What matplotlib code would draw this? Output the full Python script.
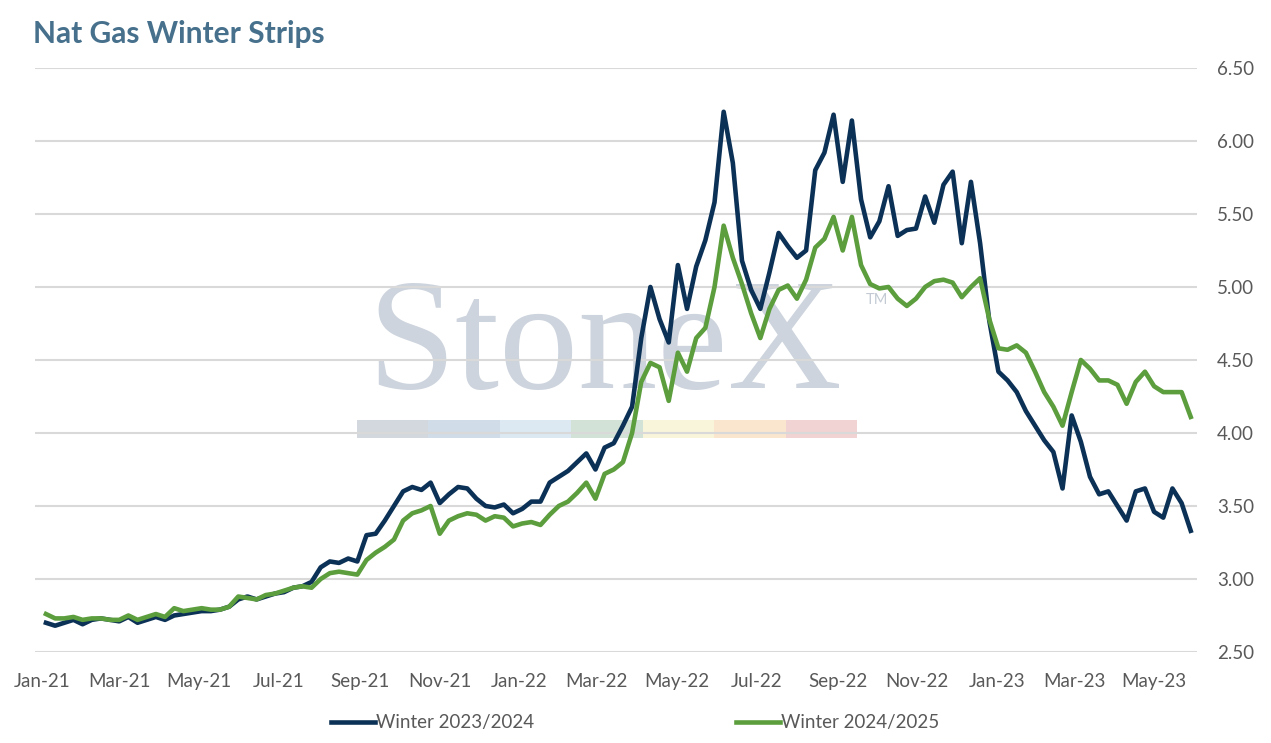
"""
Nat Gas Winter Strips chart (weekly closes read off the StoneX chart).
"""

import matplotlib

matplotlib.use("Agg")

import matplotlib.dates as mdates
import matplotlib.pyplot as plt
import pandas as pd
from matplotlib.patches import Rectangle


TITLE = "Nat Gas Winter Strips"
SERIES_NAMES = ["Winter 2023/2024", "Winter 2024/2025"]
WEEK_START = "2021-01-04"

WINTER_2324 = [
    2.70, 2.68, 2.70, 2.72, 2.69, 2.72, 2.73, 2.72, 2.71, 2.74,
    2.70, 2.72, 2.74, 2.72, 2.75, 2.76, 2.77, 2.78, 2.78, 2.79,
    2.81, 2.86, 2.88, 2.86, 2.88, 2.90, 2.91, 2.94, 2.95, 2.98,
    3.08, 3.12, 3.11, 3.14, 3.12, 3.30, 3.31, 3.40, 3.50, 3.60,
    3.63, 3.61, 3.66, 3.52, 3.58, 3.63, 3.62, 3.55, 3.50, 3.49,
    3.51, 3.45, 3.48, 3.53, 3.53, 3.66, 3.70, 3.74, 3.80, 3.86,
    3.75, 3.90, 3.93, 4.05, 4.18, 4.65, 5.00, 4.78, 4.62, 5.15,
    4.85, 5.14, 5.32, 5.58, 6.20, 5.85, 5.18, 4.98, 4.85, 5.10,
    5.37, 5.28, 5.20, 5.25, 5.80, 5.92, 6.18, 5.72, 6.14, 5.60,
    5.34, 5.45, 5.69, 5.35, 5.39, 5.40, 5.62, 5.44, 5.70, 5.79,
    5.30, 5.72, 5.30, 4.77, 4.42, 4.36, 4.28, 4.15, 4.05, 3.95,
    3.87, 3.62, 4.12, 3.94, 3.70, 3.58, 3.60, 3.50, 3.40, 3.60,
    3.62, 3.46, 3.42, 3.62, 3.52, 3.33,
]

WINTER_2425 = [
    2.76, 2.73, 2.73, 2.74, 2.72, 2.73, 2.73, 2.72, 2.72, 2.75,
    2.72, 2.74, 2.76, 2.74, 2.80, 2.78, 2.79, 2.80, 2.79, 2.79,
    2.81, 2.88, 2.87, 2.86, 2.89, 2.90, 2.92, 2.94, 2.95, 2.94,
    3.00, 3.04, 3.05, 3.04, 3.03, 3.13, 3.18, 3.22, 3.27, 3.40,
    3.45, 3.47, 3.50, 3.31, 3.40, 3.43, 3.45, 3.44, 3.40, 3.43,
    3.42, 3.36, 3.38, 3.39, 3.37, 3.44, 3.50, 3.53, 3.59, 3.66,
    3.55, 3.72, 3.75, 3.80, 4.00, 4.35, 4.48, 4.45, 4.22, 4.55,
    4.42, 4.65, 4.72, 5.00, 5.42, 5.20, 5.02, 4.82, 4.65, 4.85,
    4.98, 5.01, 4.92, 5.05, 5.27, 5.33, 5.48, 5.25, 5.48, 5.15,
    5.02, 4.99, 5.00, 4.92, 4.87, 4.92, 5.00, 5.04, 5.05, 5.03,
    4.93, 5.00, 5.06, 4.78, 4.58, 4.57, 4.60, 4.55, 4.42, 4.28,
    4.18, 4.05, 4.28, 4.50, 4.44, 4.36, 4.36, 4.33, 4.20, 4.35,
    4.42, 4.32, 4.28, 4.28, 4.28, 4.11,
]

Y_TICKS = [2.50, 3.00, 3.50, 4.00, 4.50, 5.00, 5.50, 6.00, 6.50]

NAVY = "#0C3156"
GREEN = "#5C9E3D"
GRID = "#D9D9D9"
LABEL = "#595959"
TITLE_COLOR = "#46708C"
WATERMARK = "#CDD4DD"
BAR_COLORS = ["#D3D8DE", "#D0DCE7", "#DCE9F3", "#D3E2D6", "#F8F5DB", "#FAE6CF", "#F1D3D3"]

plt.rcParams["font.family"] = ["Lato", "DejaVu Sans"]


def draw_watermark(fig) -> None:
    """
    Faint StoneX logo behind the plot area.
    """

    fig.text(0.476, 0.4778, "StoneX", family="Liberation Serif", fontsize=114,
             color=WATERMARK, ha="center", va="baseline", zorder=-2)
    fig.text(0.681, 0.596, "TM", fontsize=10.5, color="#C3CAD3",
             ha="left", va="center", zorder=-2)

    left, width = 0.2809, 0.3934
    seg = width / len(BAR_COLORS)
    for i, color in enumerate(BAR_COLORS):
        fig.patches.append(
            Rectangle((left + i * seg, 0.4105), seg, 0.0242,
                      transform=fig.transFigure, facecolor=color,
                      edgecolor="none", zorder=-2)
        )


def main() -> None:
    dates = pd.date_range(WEEK_START, periods=len(WINTER_2324), freq="W-MON")

    fig = plt.figure(figsize=(12.71, 7.43), dpi=100)
    ax = fig.add_axes([0.0275, 0.1225, 0.9145, 0.786])
    ax.set_facecolor("none")

    draw_watermark(fig)

    ax.plot(dates, WINTER_2324, color=NAVY, linewidth=3.3,
            solid_joinstyle="round", label=SERIES_NAMES[0], zorder=2)
    ax.plot(dates, WINTER_2425, color=GREEN, linewidth=3.3,
            solid_joinstyle="round", label=SERIES_NAMES[1], zorder=3)

    ax.set_ylim(2.5, 6.5)
    ax.set_yticks(Y_TICKS)
    ax.set_yticklabels([f"{v:.2f}" for v in Y_TICKS])
    ax.yaxis.tick_right()
    ax.set_xlim(pd.Timestamp("2020-12-26 14:00"), pd.Timestamp("2023-06-03"))
    ax.xaxis.set_major_locator(mdates.MonthLocator(bymonth=[1, 3, 5, 7, 9, 11]))
    ax.xaxis.set_major_formatter(mdates.DateFormatter("%b-%y"))

    ax.grid(axis="y", color=GRID, linewidth=1.5)
    ax.grid(axis="x", visible=False)
    for spine in ax.spines.values():
        spine.set_visible(False)
    ax.tick_params(axis="both", length=0, labelsize=13.5, labelcolor=LABEL)
    ax.tick_params(axis="x", pad=15)
    ax.tick_params(axis="y", pad=14)

    fig.text(0.026, 0.942, TITLE, fontsize=21.5, fontweight="bold",
             color=TITLE_COLOR, ha="left", va="baseline")

    ax.legend(loc="center", bbox_to_anchor=(0.4996, 0.027),
              bbox_transform=fig.transFigure, ncol=2, frameon=False,
              fontsize=13.5, labelcolor=LABEL, handlelength=2.35,
              handletextpad=0.05, columnspacing=10.8)

    fig.savefig("out.png", dpi=100)
    plt.close(fig)


if __name__ == "__main__":
    main()
